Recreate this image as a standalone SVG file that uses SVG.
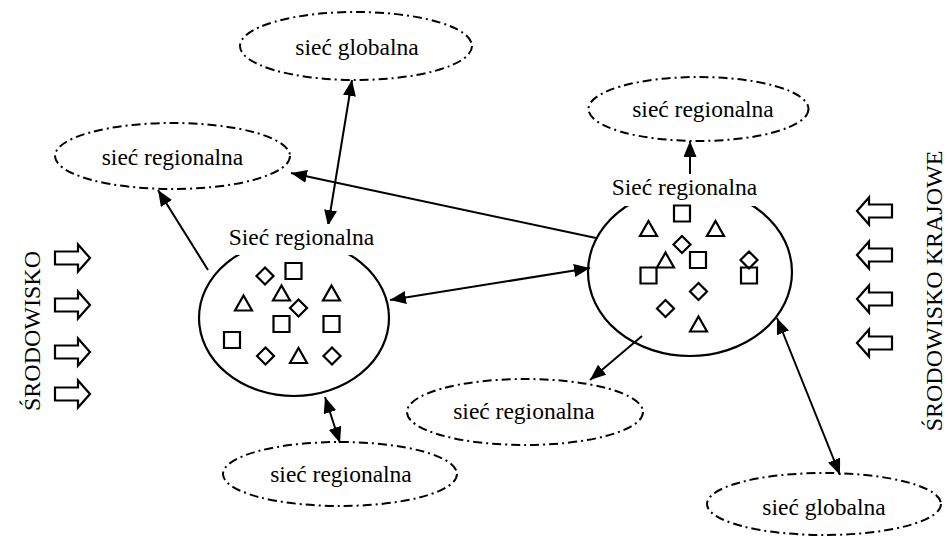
<svg xmlns="http://www.w3.org/2000/svg" xmlns:xlink="http://www.w3.org/1999/xlink" width="948" height="537" viewBox="0 0 948 537">
<style>
text{font-family:"Liberation Serif","Times New Roman",serif;fill:#000}
.lbl{font-size:23.5px;text-anchor:middle}
.vt{font-size:24px;text-anchor:middle}
.dash{fill:none;stroke:#000;stroke-width:2;stroke-dasharray:9 4 2 4}
.big{fill:none;stroke:#000;stroke-width:2.2}
.sh{fill:none;stroke:#000;stroke-width:2.2;stroke-linejoin:miter}
.blk{fill:#fff;stroke:#000;stroke-width:2.2;stroke-linejoin:miter}
.con{stroke:#000;stroke-width:2;fill:none}
</style>
<defs>
<marker id="ah" markerUnits="userSpaceOnUse" markerWidth="17" markerHeight="13" refX="16" refY="6.5" orient="auto-start-reverse">
<path d="M0,0 L16,6.5 L0,13 Z" fill="#000"/>
</marker>
<path id="tri" d="M0,-7.5 L8.5,7.5 L-8.5,7.5 Z"/>
<path id="sq" d="M-8,-8 H8 V8 H-8 Z"/>
<path id="dia" d="M0,-8.5 L8.5,0 L0,8.5 L-8.5,0 Z"/>
<path id="barr" d="M0,-6.5 L23,-6.5 L23,-13.5 L35,0 L23,13.5 L23,6.5 L0,6.5 Z"/>
</defs>
<rect width="948" height="537" fill="#fff"/>

<g id="connectors">
<line class="con" x1="352" y1="80" x2="328" y2="226" marker-start="url(#ah)" marker-end="url(#ah)"/>
<line class="con" x1="596" y1="238" x2="291" y2="173" marker-end="url(#ah)"/>
<line class="con" x1="208" y1="270" x2="158" y2="190" marker-end="url(#ah)"/>
<line class="con" x1="390" y1="300" x2="590" y2="268" marker-start="url(#ah)" marker-end="url(#ah)"/>
<line class="con" x1="690" y1="176" x2="690" y2="141" marker-end="url(#ah)"/>
<line class="con" x1="642" y1="336" x2="590" y2="380" marker-end="url(#ah)"/>
<line class="con" x1="325" y1="397" x2="340" y2="443" marker-start="url(#ah)" marker-end="url(#ah)"/>
<line class="con" x1="777" y1="318" x2="840" y2="475" marker-start="url(#ah)" marker-end="url(#ah)"/>
</g>

<g id="global-top">
<ellipse class="dash" cx="356" cy="46" rx="116" ry="34"/>
<text class="lbl" x="357" y="55">sieć globalna</text>
</g>
<g id="regional-upper-left">
<ellipse class="dash" cx="172.5" cy="156" rx="117.5" ry="33"/>
<text class="lbl" x="172.5" y="165">sieć regionalna</text>
</g>
<g id="regional-top-right">
<ellipse class="dash" cx="698.5" cy="109" rx="110" ry="32"/>
<text class="lbl" x="703" y="117">sieć regionalna</text>
</g>
<g id="regional-middle">
<ellipse class="dash" cx="525" cy="412" rx="118" ry="33"/>
<text class="lbl" x="524" y="419">sieć regionalna</text>
</g>
<g id="regional-bottom">
<ellipse class="dash" cx="340" cy="474" rx="117" ry="32"/>
<text class="lbl" x="341" y="482">sieć regionalna</text>
</g>
<g id="global-bottom-right">
<ellipse class="dash" cx="824" cy="504" rx="117" ry="31"/>
<text class="lbl" x="824" y="515">sieć globalna</text>
</g>

<g id="network-left">
<ellipse class="big" cx="294" cy="318" rx="95" ry="78"/>
<rect x="226" y="224" width="152" height="31" fill="#fff"/>
<text class="lbl" x="301.5" y="245">Sieć regionalna</text>
<g class="sh">
<use xlink:href="#dia" x="265" y="276"/>
<use xlink:href="#sq" x="293.5" y="271"/>
<use xlink:href="#tri" x="281.5" y="293"/>
<use xlink:href="#tri" x="331.5" y="293"/>
<use xlink:href="#tri" x="243.5" y="303"/>
<use xlink:href="#dia" x="298.5" y="308"/>
<use xlink:href="#sq" x="281.5" y="324"/>
<use xlink:href="#sq" x="331.5" y="324"/>
<use xlink:href="#sq" x="232" y="340"/>
<use xlink:href="#dia" x="265.5" y="356"/>
<use xlink:href="#tri" x="298.5" y="355.5"/>
<use xlink:href="#dia" x="332" y="356"/>
</g>
</g>

<g id="network-right">
<ellipse class="big" cx="690" cy="272" rx="102" ry="84"/>
<rect x="608" y="174" width="154" height="32" fill="#fff"/>
<text class="lbl" x="684.5" y="195">Sieć regionalna</text>
<g class="sh">
<use xlink:href="#sq" x="682" y="213.5"/>
<use xlink:href="#tri" x="648.5" y="228.5"/>
<use xlink:href="#tri" x="715.5" y="228.5"/>
<use xlink:href="#dia" x="682" y="244.5"/>
<use xlink:href="#tri" x="665.5" y="260"/>
<use xlink:href="#sq" x="698" y="260"/>
<use xlink:href="#dia" x="749" y="260"/>
<use xlink:href="#sq" x="648.5" y="275.5"/>
<use xlink:href="#sq" x="749" y="275.5"/>
<use xlink:href="#dia" x="698.5" y="291.5"/>
<use xlink:href="#dia" x="665.5" y="308.5"/>
<use xlink:href="#tri" x="698.5" y="324"/>
</g>
</g>

<g id="environment-left">
<text class="vt" transform="translate(40,331) rotate(-90)">ŚRODOWISKO</text>
<g class="blk">
<use xlink:href="#barr" transform="translate(55,258)"/>
<use xlink:href="#barr" transform="translate(55,305)"/>
<use xlink:href="#barr" transform="translate(55,352)"/>
<use xlink:href="#barr" transform="translate(55,394)"/>
</g>
</g>

<g id="environment-right">
<text class="vt" transform="translate(942,291) rotate(-90)">ŚRODOWISKO KRAJOWE</text>
<g class="blk">
<use xlink:href="#barr" transform="translate(892,211) scale(-1,1)"/>
<use xlink:href="#barr" transform="translate(892,255) scale(-1,1)"/>
<use xlink:href="#barr" transform="translate(892,299) scale(-1,1)"/>
<use xlink:href="#barr" transform="translate(892,343) scale(-1,1)"/>
</g>
</g>
</svg>
